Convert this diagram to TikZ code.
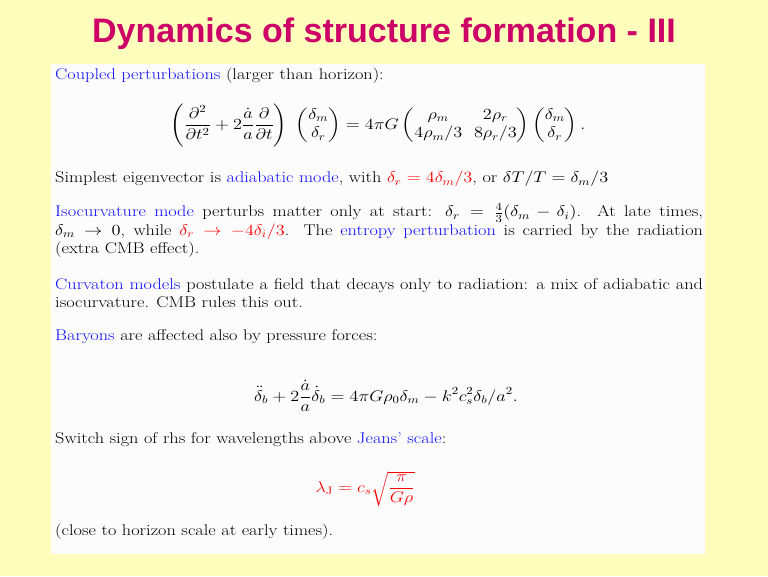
\RequirePackage{fix-cm}
\documentclass[tikz,border=0pt]{standalone}
\usepackage{amsmath}
\usepackage{graphicx}
\usepackage{fontspec}
\newfontfamily\titlefont{Liberation Sans}
\definecolor{slideyellow}{HTML}{FFFDBB}
\definecolor{slidewhite}{HTML}{FCFCFC}
\definecolor{titlemagenta}{HTML}{CC0066}
\definecolor{keyblue}{HTML}{1010FF}
\definecolor{keyred}{HTML}{FF0000}
\newcommand{\bodysize}{\fontsize{15.5}{18.3}\selectfont}
\newcommand{\key}[1]{\textcolor{keyblue}{#1}}
\newcommand{\hot}[1]{\textcolor{keyred}{#1}}
% the slide text is set wide
\newcommand{\wide}[1]{\scalebox{1.18}[1]{#1}}
\newcommand{\para}[1]{\wide{\parbox[t]{549pt}{#1}}}

\begin{document}
\begin{tikzpicture}[x=1pt,y=-1pt]
 \tikzset{para/.style={anchor=base west,inner sep=0,font=\bodysize},
   display/.style={anchor=base,inner sep=0,font=\bodysize}}
 \fill[slideyellow] (0,0) rectangle (768,576);
 \fill[slidewhite] (51,64) rectangle (705,554);
 \node[anchor=base,inner sep=0,text=titlemagenta,font=\titlefont\bfseries\fontsize{34}{40}\selectfont] (title) at (384,42) {Dynamics of structure formation - III};

 \node[para] (coupled) at (55,79) {\para{\key{Coupled perturbations} (larger than horizon):}};
 \node[display] (matrixeq) at (378,129) {\wide{$\displaystyle
   \left(\frac{\partial^2}{\partial t^2}+2\frac{\dot a}{a}\frac{\partial}{\partial t}\right)\
   \begin{pmatrix}\delta_m\\ \delta_r\end{pmatrix}
   = 4\pi G\begin{pmatrix}\rho_m & 2\rho_r\\ 4\rho_m/3 & 8\rho_r/3\end{pmatrix}
   \begin{pmatrix}\delta_m\\ \delta_r\end{pmatrix}.$}};
 \node[para] (adiabatic) at (55,182.7) {\para{Simplest eigenvector is \key{adiabatic mode}, with \hot{$\delta_r=4\delta_m/3$}, or $\delta T/T=\delta_m/3$}};
 \node[para] (isocurv) at (55,216.7) {\para{\key{Isocurvature mode} perturbs matter only at start: $\delta_r=\frac43(\delta_m-\delta_i)$. At late times,\linebreak $\delta_m\to0$, while \hot{$\delta_r\to-4\delta_i/3$}. The \key{entropy perturbation} is carried by the radiation\linebreak (extra CMB effect).}};
 \node[para] (curvaton) at (55,289) {\para{\key{Curvaton models} postulate a field that decays only to radiation: a mix of adiabatic and isocurvature. CMB rules this out.}};
 \node[para] (baryons) at (55,340) {\para{\key{Baryons} are affected also by pressure forces:}};
 \node[display] (baryoneq) at (386,401) {\wide{$\displaystyle
   \ddot\delta_b+2\frac{\dot a}{a}\dot\delta_b=4\pi G\rho_0\delta_m-k^2c_s^2\delta_b/a^2.$}};
 \node[para] (jeans) at (55,443) {\para{Switch sign of rhs for wavelengths above \key{Jeans' scale}:}};
 \node[display,text=keyred] (jeanseq) at (365,492) {\wide{$\displaystyle \lambda_{\rm J}=c_s\sqrt{\frac{\pi}{G\rho}}$}};
 \node[para] (early) at (55,535) {\para{(close to horizon scale at early times).}};
\end{tikzpicture}
\end{document}
